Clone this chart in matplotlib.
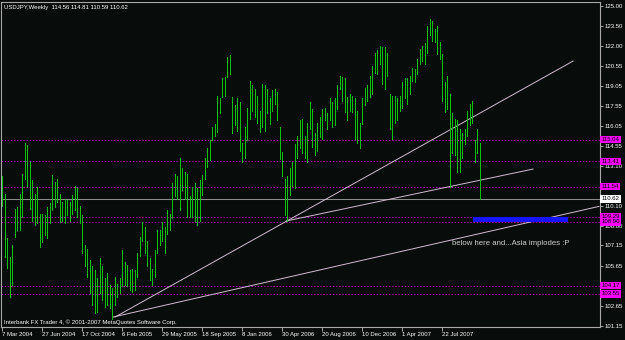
import matplotlib
matplotlib.use('Agg')
import matplotlib.pyplot as plt
from matplotlib.patches import Rectangle

# chart texts
title = 'USDJPY,Weekly  114.56 114.81 110.59 110.62'
copyright_txt = 'Interbank FX Trader 4, \u00a9 2001-2007 MetaQuotes Software Corp.'
note = 'below here and...Asia implodes :P'

# x axis: weekly bars, one label every 16 bars
date_labels = ['7 Mar 2004', '27 Jun 2004', '17 Oct 2004', '6 Feb 2005',
               '29 May 2005', '18 Sep 2005', '8 Jan 2006', '30 Apr 2006',
               '20 Aug 2006', '10 Dec 2006', '1 Apr 2007', '22 Jul 2007']
date_bars = [0, 16, 32, 48, 64, 80, 96, 112, 128, 144, 160, 176]

# weekly highs / lows
highs = [112.3, 111.0, 107.7, 106.3, 107.2, 109.9, 110.0, 111.0, 112.5, 114.8,
         114.6, 113.4, 112.0, 111.0, 111.5, 109.5, 109.5, 109.4, 110.0, 110.3,
         112.4, 111.9, 112.1, 111.0, 110.4, 110.6, 110.5, 110.4, 110.9, 111.6,
         111.4, 110.1, 109.4, 107.2, 106.9, 106.1, 105.6, 105.3, 104.7, 106.2,
         105.6, 104.7, 105.1, 104.2, 104.0, 104.8, 104.3, 104.7,
         106.8, 105.9, 105.7, 105.3, 105.4, 105.3, 106.6, 107.8, 108.9, 108.5,
         107.5, 106.2, 105.4, 106.8, 108.3, 108.3, 108.9, 108.5, 109.8, 109.5,
         111.8, 112.5, 112.3, 113.7, 112.9, 112.6, 112.5, 110.8, 111.5, 111.8,
         111.4, 112.0, 112.4, 113.7, 114.4, 115.0, 116.0, 116.2, 118.3, 118.1,
         119.6, 119.7, 121.2, 121.3, 118.2, 117.6, 118.1, 117.8,
         114.8, 116.0, 117.4, 119.4, 119.1, 118.8, 118.3, 117.2, 119.2, 119.1,
         118.8, 118.1, 118.7, 118.8, 118.6, 116.0, 114.1, 112.1, 112.3, 112.9,
         113.4, 114.7, 115.3, 116.5, 116.6, 115.3, 116.3, 117.8, 117.3, 115.5,
         116.3, 116.7, 117.3, 117.4, 117.0, 118.1, 117.8, 118.1, 119.1, 119.8,
         119.7, 119.6, 118.2, 118.4, 118.3, 118.1, 117.2, 116.3,
         118.1, 118.9, 119.1, 119.8, 120.5, 121.5, 121.7, 122.0, 121.9, 121.9,
         121.5, 118.4, 118.3, 118.3, 118.1, 118.3, 119.3, 119.6, 119.6, 119.8,
         120.4, 120.3, 121.0, 121.8, 122.0, 122.2, 123.5, 124.0, 123.9, 123.3,
         123.5, 122.3, 121.4, 119.3, 119.8, 118.4, 117.0, 116.6, 116.5, 115.8,
         115.5, 115.8, 117.2, 117.7, 117.9, 115.0, 115.8, 114.81]
lows = [110.1, 106.3, 105.5, 103.3, 104.2, 107.8, 108.3, 108.3, 109.3, 112.1,
        111.6, 109.9, 109.0, 108.7, 108.8, 107.0, 107.4, 107.9, 107.7, 108.8,
        109.8, 110.0, 110.4, 108.9, 109.0, 108.8, 109.4, 109.0, 109.5, 109.8,
        109.3, 108.8, 106.6, 105.6, 104.8, 103.6, 102.7, 102.1, 102.2, 103.6,
        103.1, 102.6, 102.7, 102.5, 101.7, 102.7, 103.3, 103.6,
        104.1, 104.2, 104.1, 103.8, 103.7, 103.8, 104.8, 106.4, 107.5, 106.6,
        105.6, 104.6, 104.2, 104.8, 106.6, 107.2, 107.5, 106.6, 108.0, 108.3,
        109.2, 110.8, 110.6, 109.8, 111.3, 110.6, 109.3, 109.3, 109.3, 109.0,
        108.7, 109.0, 110.9, 112.1, 113.0, 113.5, 115.0, 115.3, 115.6, 117.0,
        118.2, 118.3, 119.7, 119.9, 115.5, 116.1, 115.7, 114.2,
        113.4, 113.7, 115.0, 116.6, 117.2, 116.7, 116.3, 115.6, 116.0, 115.7,
        117.0, 116.2, 117.2, 117.7, 116.5, 113.6, 112.3, 109.4, 109.0, 110.9,
        111.6, 111.4, 113.7, 114.4, 114.0, 113.7, 113.4, 115.8, 114.5, 113.9,
        114.2, 115.2, 115.1, 116.5, 115.8, 116.5, 116.0, 116.1, 117.3, 118.8,
        117.9, 117.1, 116.5, 117.2, 117.1, 115.1, 114.8, 114.4,
        116.2, 117.6, 117.9, 118.2, 118.4, 120.0, 119.9, 120.7, 119.2, 118.8,
        119.8, 115.8, 115.1, 116.3, 116.5, 117.2, 117.4, 118.1, 117.7, 118.4,
        119.4, 119.3, 119.9, 120.7, 120.9, 120.7, 121.5, 122.8, 122.4, 122.3,
        121.4, 121.0, 117.9, 117.1, 117.3, 111.5, 114.0, 113.9, 112.6, 112.6,
        113.7, 114.7, 115.3, 116.1, 116.3, 113.4, 114.0, 110.59]

# horizontal levels, last price and the price-axis labels left visible
levels = [115.04, 113.41, 111.54, 109.29, 108.90, 104.17, 103.55]
last_price = 110.62
price_ticks = [125.00, 123.50, 122.00, 120.55, 119.05, 117.55, 116.05, 114.55,
               113.10, 110.10, 108.60, 107.15, 105.65, 102.65, 101.15]

# drawn trend lines: (bar index pair, price pair)
trend_lines = [([45.2, 228.4], [101.82, 120.88]),
               ([113.6, 212.4], [108.97, 112.84]),
               ([44.4, 238.8], [101.82, 110.06])]
zone_bars = [188.5, 226.4]
zone_prices = [108.90, 109.29]
note_at = (180, 107.33)

bg = '#080c0a'
plt.rcParams['font.family'] = 'Liberation Sans'

fig = plt.figure(figsize=(6.25, 3.4), dpi=100, facecolor=bg)
ax = fig.add_axes([1.5 / 625, 13 / 340, 598 / 625, 325 / 340], facecolor=bg)

x = list(range(len(highs)))
ax.vlines(x, lows, highs, colors='#10c010', linewidth=0.5,
          antialiased=False, zorder=3)

for lv in levels:
    ax.axhline(lv, color='#a000a0', linewidth=0.75, dashes=(1.5, 1.5), zorder=1)
ax.axhline(last_price, color='#8c8c8c', linewidth=0.75, zorder=1)

for xs, ys in trend_lines:
    ax.plot(xs, ys, color='#d4bcd4', linewidth=0.7, zorder=2)

ax.add_patch(Rectangle((zone_bars[0], zone_prices[0]),
                       zone_bars[1] - zone_bars[0],
                       zone_prices[1] - zone_prices[0],
                       facecolor='#1414ff', edgecolor='none', zorder=2))

ax.text(note_at[0], note_at[1], note, color='#d0d0d0', fontsize=5.6,
        va='center', ha='left', zorder=4)

ax.set_xlim(-0.2, 239)
ax.set_ylim(101.08, 125.28)

# axes styling
for s in ax.spines.values():
    s.set_color('#a8a8a8')
    s.set_linewidth(0.8)

ax.yaxis.tick_right()
ax.set_yticks(price_ticks)
ax.set_yticklabels(['%.2f' % t for t in price_ticks])
ax.tick_params(axis='y', colors='#a8a8a8', labelcolor='white', length=2,
               width=0.7, pad=1.5, labelsize=4.3)
ax.set_xticks(date_bars)
ax.set_xticklabels(date_labels, ha='left')
ax.tick_params(axis='x', colors='#a8a8a8', labelcolor='white', length=3,
               width=0.7, pad=0.5, labelsize=4.3)

# price boxes on the right axis
ytr = ax.get_yaxis_transform()
for lv in levels:
    ax.text(1.0 + 2 / 598, lv, '%.2f' % lv, transform=ytr, fontsize=4.3,
            color='black', va='center', ha='left', clip_on=False, zorder=5,
            bbox=dict(boxstyle='square,pad=0.2', fc='#ff00ff', ec='none'))
ax.text(1.0 + 2 / 598, last_price, '%.2f' % last_price, transform=ytr,
        fontsize=4.3, color='black', va='center', ha='left', clip_on=False,
        zorder=5, bbox=dict(boxstyle='square,pad=0.2', fc='white', ec='none'))

fig.text(4 / 625, 1 - 7 / 340, title, color='white', fontsize=4.3,
         va='center', ha='left')
fig.text(4 / 625, 1 - 322 / 340, copyright_txt, color='white', fontsize=4.3,
         va='center', ha='left')

fig.savefig('out.png', dpi=100, facecolor=bg)
